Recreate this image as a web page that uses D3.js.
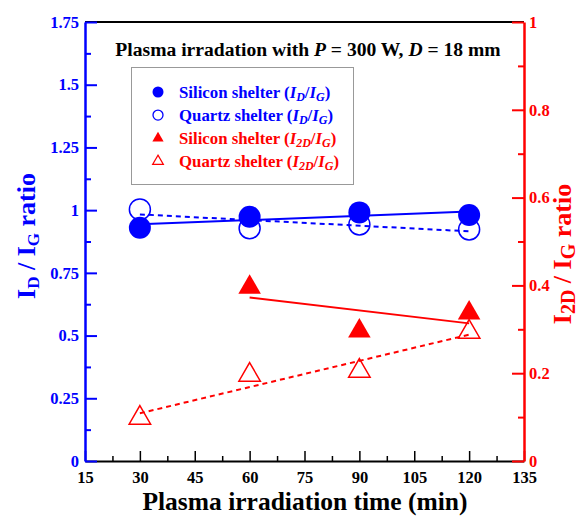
<!DOCTYPE html>
<html><head><meta charset="utf-8">
<script src="https://cdn.jsdelivr.net/npm/d3@7"></script>
<style>
html,body{margin:0;padding:0;background:#fff;}
</style></head>
<body><svg id="c" width="581" height="516"></svg>
<script>
// ---- data ----
const times = [30, 60, 90, 120];
const siliconIDIG = [0.930, 0.974, 0.991, 0.981];
const quartzIDIG  = [1.003, 0.928, 0.943, 0.923];
const silicon2DTimes = [60, 90, 120];
const siliconI2DIG = [0.396, 0.296, 0.337];
const quartzI2DIG  = [0.098, 0.196, 0.205, 0.294];
const xTicks = [15, 30, 45, 60, 75, 90, 105, 120, 135];
const yLeftTicks = [0, 0.25, 0.5, 0.75, 1, 1.25, 1.5, 1.75];
const yRightTicks = [0, 0.2, 0.4, 0.6, 0.8, 1];

const FONT = "Liberation Serif";
const BLUE = "#0000ff", RED = "#ff0000";
const svg = d3.select("#c");
const L = 85, R = 524, T = 22, B = 461;
const x = d3.scaleLinear().domain([15, 135]).range([L, R]);
const yL = d3.scaleLinear().domain([0, 1.75]).range([B, T]);
const yR = d3.scaleLinear().domain([0, 1]).range([B, T]);

function fit(xs, ys) {
  const n = xs.length, mx = d3.mean(xs), my = d3.mean(ys);
  let sxy = 0, sxx = 0;
  for (let i = 0; i < n; i++) { sxy += (xs[i]-mx)*(ys[i]-my); sxx += (xs[i]-mx)**2; }
  const b = sxy / sxx, a = my - b*mx;
  return [[xs[0], a + b*xs[0]], [xs[n-1], a + b*xs[n-1]]];
}

// top border
svg.append("line").attr("x1", L).attr("x2", R).attr("y1", T).attr("y2", T)
  .attr("stroke", "#000").attr("stroke-width", 2);

// x axis
const xAxis = d3.axisBottom(x).tickValues(xTicks).tickSizeInner(-10).tickSizeOuter(0).tickPadding(10.5).tickFormat(d3.format("d"));
const gx = svg.append("g").attr("transform", `translate(0,${B})`).call(xAxis);
gx.select(".domain").attr("stroke", "#000").attr("stroke-width", 2);
gx.selectAll(".tick line").attr("stroke", "#000").attr("stroke-width", 1.5);
gx.selectAll(".tick text").attr("font-size", 16.5).attr("fill", "#000");
const xMinor = d3.axisBottom(x).tickValues(d3.range(22.5, 135, 15)).tickSize(-5).tickFormat("");
const gxm = svg.append("g").attr("transform", `translate(0,${B})`).call(xMinor);
gxm.select(".domain").remove();
gxm.selectAll(".tick line").attr("stroke", "#000").attr("stroke-width", 1.5);

// left axis
const yAxisL = d3.axisLeft(yL).tickValues(yLeftTicks).tickSizeInner(-12).tickSizeOuter(0).tickPadding(6).tickFormat(d => d3.format("")(d));
const gl = svg.append("g").attr("transform", `translate(${L},0)`).call(yAxisL);
gl.select(".domain").attr("stroke", BLUE).attr("stroke-width", 2.5);
gl.selectAll(".tick line").attr("stroke", BLUE).attr("stroke-width", 2);
gl.selectAll(".tick text").attr("font-size", 16.5).attr("fill", BLUE);
const yLMinor = d3.axisLeft(yL).tickValues(d3.range(0.125, 1.75, 0.25)).tickSize(-6).tickFormat("");
const glm = svg.append("g").attr("transform", `translate(${L},0)`).call(yLMinor);
glm.select(".domain").remove();
glm.selectAll(".tick line").attr("stroke", BLUE).attr("stroke-width", 2);

// right axis
const yAxisR = d3.axisRight(yR).tickValues(yRightTicks).tickSizeInner(-12).tickSizeOuter(0).tickPadding(5).tickFormat(d => d3.format("")(d));
const gr = svg.append("g").attr("transform", `translate(${R},0)`).call(yAxisR);
gr.select(".domain").attr("stroke", RED).attr("stroke-width", 2.5);
gr.selectAll(".tick line").attr("stroke", RED).attr("stroke-width", 2);
gr.selectAll(".tick text").attr("font-size", 16.5).attr("fill", RED);
const yRMinor = d3.axisRight(yR).tickValues(d3.range(0.1, 1, 0.2)).tickSize(-6).tickFormat("");
const grm = svg.append("g").attr("transform", `translate(${R},0)`).call(yRMinor);
grm.select(".domain").remove();
grm.selectAll(".tick line").attr("stroke", RED).attr("stroke-width", 2);

// axis titles
svg.append("text").attr("x", 305).attr("y", 510).attr("text-anchor", "middle")
  .attr("font-size", 25.5).attr("fill", "#000").text("Plasma irradiation time (min)");

function ratioTitle(g, sub1, color, fs, ss) {
  const t = g.append("text").attr("text-anchor", "middle").attr("font-size", fs).attr("fill", color);
  t.append("tspan").text("I");
  t.append("tspan").attr("font-size", ss).attr("dy", 4).text(sub1);
  t.append("tspan").attr("dy", -4).text(" / I");
  t.append("tspan").attr("font-size", ss).attr("dy", 4).text("G");
  t.append("tspan").attr("dy", -4).text(" ratio");
  return t;
}
ratioTitle(svg.append("g").attr("transform", "translate(35,236) rotate(-90)"), "D", BLUE, 26, 17);
ratioTitle(svg.append("g").attr("transform", "translate(571,254) rotate(-90)"), "2D", RED, 26, 20);

// chart title
const tt = svg.append("text").attr("x", 308).attr("y", 56).attr("text-anchor", "middle")
  .attr("font-size", 19.6).attr("fill", "#000");
tt.append("tspan").text("Plasma irradation with ");
tt.append("tspan").attr("font-style", "italic").text("P");
tt.append("tspan").text(" = 300 W, ");
tt.append("tspan").attr("font-style", "italic").text("D");
tt.append("tspan").text(" = 18 mm");

// fit lines
const lineL = d3.line().x(d => x(d[0])).y(d => yL(d[1]));
const lineR = d3.line().x(d => x(d[0])).y(d => yR(d[1]));
svg.append("path").attr("d", lineL(fit(times, quartzIDIG))).attr("stroke", BLUE).attr("stroke-width", 2).attr("stroke-dasharray", "5,4").attr("fill", "none");
svg.append("path").attr("d", lineL(fit(times, siliconIDIG))).attr("stroke", BLUE).attr("stroke-width", 2).attr("fill", "none");
svg.append("path").attr("d", lineR(fit(times, quartzI2DIG))).attr("stroke", RED).attr("stroke-width", 2).attr("stroke-dasharray", "5,4").attr("fill", "none");
svg.append("path").attr("d", lineR(fit(silicon2DTimes, siliconI2DIG))).attr("stroke", RED).attr("stroke-width", 2).attr("fill", "none");

// markers
const tri = d3.symbol().type(d3.symbolTriangle);
svg.selectAll(".qc").data(times).join("circle").attr("cx", d => x(d)).attr("cy", (d,i) => yL(quartzIDIG[i]))
  .attr("r", 10.5).attr("fill", "none").attr("stroke", BLUE).attr("stroke-width", 1.5);
svg.selectAll(".sc").data(times).join("circle").attr("cx", d => x(d)).attr("cy", (d,i) => yL(siliconIDIG[i]))
  .attr("r", 11).attr("fill", BLUE);
svg.selectAll(".qt").data(times).join("path").attr("d", tri.size(200)())
  .attr("transform", (d,i) => `translate(${x(d)},${yR(quartzI2DIG[i])})`)
  .attr("fill", "none").attr("stroke", RED).attr("stroke-width", 1.5);
svg.selectAll(".st").data(silicon2DTimes).join("path").attr("d", tri.size(220)())
  .attr("transform", (d,i) => `translate(${x(d)},${yR(siliconI2DIG[i])})`)
  .attr("fill", RED);

// legend
const lg = svg.append("g");
lg.append("rect").attr("x", 131.5).attr("y", 67.5).attr("width", 222).attr("height", 117)
  .attr("fill", "#fff").attr("stroke", "#999").attr("stroke-width", 1);
const legendItems = [
  {sub: "D", color: BLUE, name: "Silicon shelter", sym: "fc"},
  {sub: "D", color: BLUE, name: "Quartz shelter", sym: "oc"},
  {sub: "2D", color: RED, name: "Silicon shelter", sym: "ft"},
  {sub: "2D", color: RED, name: "Quartz shelter", sym: "ot"}
];
legendItems.forEach((it, i) => {
  const cy = 92 + i * 23.1;
  if (it.sym === "fc") lg.append("circle").attr("cx", 158).attr("cy", cy).attr("r", 5.5).attr("fill", it.color);
  if (it.sym === "oc") lg.append("circle").attr("cx", 158).attr("cy", cy).attr("r", 5).attr("fill", "none").attr("stroke", it.color).attr("stroke-width", 1.3);
  if (it.sym === "ft") lg.append("path").attr("d", tri.size(55)()).attr("transform", `translate(158,${cy})`).attr("fill", it.color);
  if (it.sym === "ot") lg.append("path").attr("d", tri.size(50)()).attr("transform", `translate(158,${cy})`).attr("fill", "none").attr("stroke", it.color).attr("stroke-width", 1.2);
  const t = lg.append("text").attr("x", 179).attr("y", cy + 5.5).attr("font-size", 16.8).attr("fill", it.color);
  t.append("tspan").text(it.name + " (");
  t.append("tspan").attr("font-style", "italic").text("I");
  t.append("tspan").attr("font-style", "italic").attr("font-size", 12).attr("dy", 3).text(it.sub);
  t.append("tspan").attr("dy", -3).text("/");
  t.append("tspan").attr("font-style", "italic").text("I");
  t.append("tspan").attr("font-style", "italic").attr("font-size", 12).attr("dy", 3).text("G");
  t.append("tspan").attr("dy", -3).text(")");
});

// serif bold on every text
svg.selectAll("text").attr("font-family", FONT).attr("font-weight", "bold");
svg.selectAll("g").filter(function() { return this.hasAttribute("font-family"); }).attr("font-family", FONT);
</script></body></html>
